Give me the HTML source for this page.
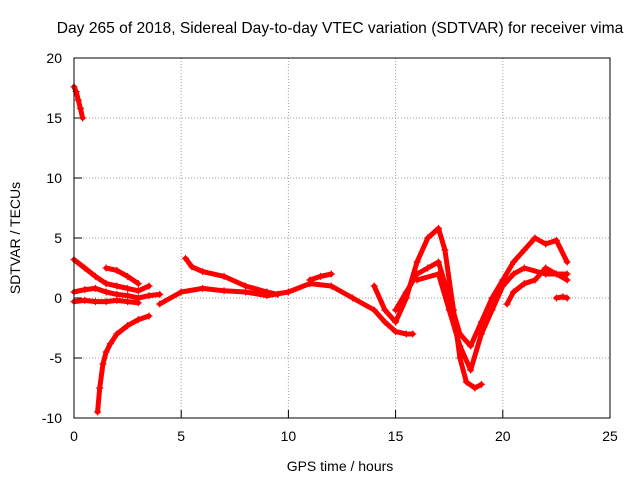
<!DOCTYPE html>
<html><head><meta charset="utf-8"><style>
body{margin:0;background:#fff;font-family:"Liberation Sans",sans-serif;}
svg text{font-family:"Liberation Sans",sans-serif;font-size:14px;fill:#000}
</style></head><body>
<svg id="chart" width="640" height="480" xmlns="http://www.w3.org/2000/svg">
<text x="340" y="33" text-anchor="middle" style="font-size:15.6px">Day 265 of 2018, Sidereal Day-to-day VTEC variation (SDTVAR) for receiver vima</text>
<text x="340" y="471" text-anchor="middle">GPS time / hours</text>
<text transform="translate(20,238) rotate(-90)" text-anchor="middle">SDTVAR / TECUs</text>
<g id="grid"></g>
<g id="series"></g>
<rect x="74" y="58" width="536" height="360" fill="none" stroke="#000" stroke-width="1"/>
</svg>
<script>
const xTicks=[0,5,10,15,20,25];
const yTicks=[-10,-5,0,5,10,15,20];
const s1t=[0,0.1,0.2,0.3,0.4];const s1v=[17.6,17.2,16.5,15.8,15];
const s2t=[1.1,1.2,1.35,1.5,1.7,2,2.5,3,3.5];const s2v=[-9.5,-7.5,-5.5,-4.5,-3.8,-3,-2.3,-1.8,-1.5];
const s3t=[0,0.5,1,1.5,2,2.5,3,3.5];const s3v=[3.2,2.5,1.8,1.2,1,0.8,0.6,1];
const s4t=[0,0.5,1,1.5,2,2.5,3,3.5,4];const s4v=[0.5,0.7,0.8,0.5,0.3,0.2,0,0.2,0.3];
const s5t=[0,0.5,1,1.5,2,2.5,3];const s5v=[-0.3,-0.2,-0.3,-0.3,-0.2,-0.3,-0.4];
const s13t=[1.5,2,2.5,3];const s13v=[2.5,2.3,1.8,1.2];
const s6t=[5.2,5.5,6,7,8,9,9.5];const s6v=[3.3,2.6,2.2,1.8,1,0.5,0.3];
const s7t=[4,5,6,7,8,9,10,11,12,13,14,14.5,15,15.5,15.8];const s7v=[-0.5,0.5,0.8,0.6,0.5,0.2,0.5,1.2,1,0,-1,-2,-2.8,-3,-3];
const s8t=[11,11.5,12];const s8v=[1.5,1.8,2];
const s9t=[14,14.5,15,15.5,16,16.5,17,17.3,17.7,18,18.3,18.7,19];const s9v=[1,-1,-2,0,3,5,5.8,4,-1,-5,-7,-7.5,-7.2];
const s10t=[15,15.5,16,16.5,17,17.5,18,18.5,19,19.5,20,20.5,21,21.5,22,22.5,23];const s10v=[-1,0.5,2,2.5,3,0,-3,-4,-2,0,1.5,3,4,5,4.5,4.8,3];
const s11t=[16,17,17.5,18,18.5,19,19.5,20,20.5,21,22,23];const s11v=[1.5,2,-1,-4,-6,-3,-1,1,2,2.5,2,2];
const s12t=[20.2,20.5,21,21.5,22,22.5,23];const s12v=[-0.5,0.5,1.2,1.5,2.5,2,1.5];
const s14t=[22.5,22.8,23];const s14v=[0,0.1,0];
const allSeries=[[s1t,s1v],[s2t,s2v],[s3t,s3v],[s4t,s4v],[s5t,s5v],[s13t,s13v],[s6t,s6v],[s7t,s7v],[s8t,s8v],[s9t,s9v],[s10t,s10v],[s11t,s11v],[s12t,s12v],[s14t,s14v]];
const X=t=>74+t*536/25, Y=v=>298-v*12;
const NS="http://www.w3.org/2000/svg";
const svg=document.getElementById('chart'),grid=document.getElementById('grid'),ser=document.getElementById('series');
function mk(tag,attrs,parent){const e=document.createElementNS(NS,tag);for(const k in attrs)e.setAttribute(k,attrs[k]);parent.appendChild(e);return e;}
xTicks.forEach(t=>{
 const x=X(t);
 if(t>0&&t<25){const l=mk('line',{x1:x,y1:58,x2:x,y2:418,stroke:'#a0a0a0','stroke-dasharray':'1,2'},grid);
 
 }
 const tk=mk('line',{x1:x,y1:418,x2:x,y2:410,stroke:'#000'},grid);
 
 
 const tx=mk('text',{x:x,y:441,'text-anchor':'middle'},grid);tx.textContent=t;
 
 
});
yTicks.forEach(v=>{
 const y=Y(v);
 if(v>-10&&v<20){const l=mk('line',{x1:74,y1:y,x2:610,y2:y,stroke:'#a0a0a0','stroke-dasharray':'1,2'},grid);
 
 }
 const tk=mk('line',{x1:74,y1:y,x2:82,y2:y,stroke:'#000'},grid);
 
 
 const tx=mk('text',{x:62,y:y+5,'text-anchor':'end'},grid);tx.textContent=v;
 
 
});
allSeries.forEach(([ts,vs],i)=>{
 const pts=ts.map((t,j)=>X(t)+','+Y(vs[j])).join(' ');
 const pl=mk('polyline',{points:pts,fill:'none',stroke:'#f00','stroke-width':5,'stroke-linejoin':'round','stroke-linecap':'round'},ser);
 
 
 ts.forEach((t,j)=>{
  const x=X(t),y=Y(vs[j]);
  const p=mk('path',{d:`M${x-3.5},${y}H${x+3.5}M${x},${y-3.5}V${y+3.5}`,stroke:'#f00','stroke-width':1.2},ser);
  
  
 });
});
</script>
</body></html>
